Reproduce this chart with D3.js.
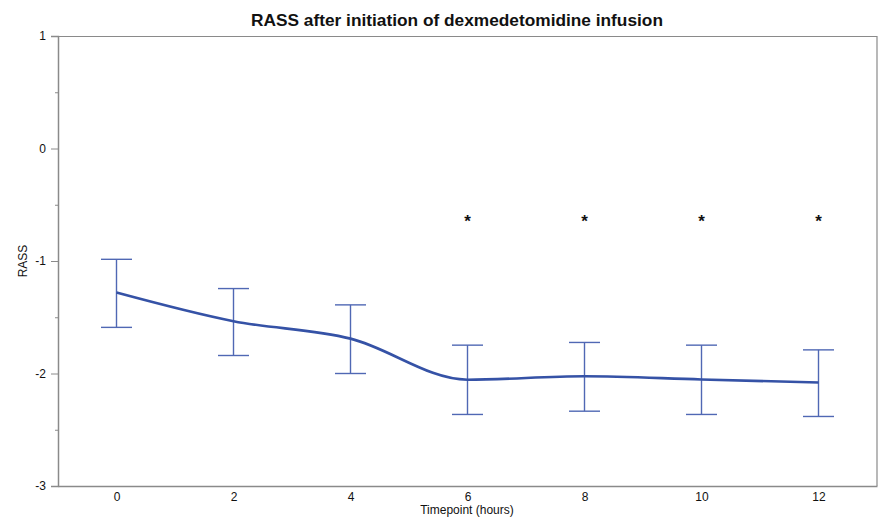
<!DOCTYPE html>
<html>
<head>
<meta charset="utf-8">
<script src="https://cdn.jsdelivr.net/npm/d3@7"></script>
<style>
  body { margin: 0; background: #fff; }
  text { font-family: "Liberation Sans", Arial, sans-serif; }
</style>
</head>
<body>
<div id="chart"></div>
<script>
// data
const hours = [0, 2, 4, 6, 8, 10, 12];
const meanRass = [-1.28, -1.535, -1.69, -2.055, -2.025, -2.053, -2.08];
const upperRass = [-0.985, -1.245, -1.39, -1.748, -1.724, -1.748, -1.79];
const lowerRass = [-1.59, -1.84, -2.0, -2.364, -2.335, -2.364, -2.382];
const starHours = [6, 8, 10, 12];
const starLevel = -0.63;
const xTicks = [0, 2, 4, 6, 8, 10, 12];
const yTicks = [1, 0, -1, -2, -3];
const yMinorTicks = [0.5, -0.5, -1.5, -2.5];

const margin = { top: 36, right: 8, bottom: 33, left: 58 };
const width = 885 - margin.left - margin.right;
const height = 519 - margin.top - margin.bottom;

const svg = d3.select("#chart").append("svg")
    .attr("width", 885).attr("height", 519);
const g = svg.append("g")
    .attr("transform", "translate(" + margin.left + "," + margin.top + ")");

const x = d3.scaleLinear().domain([-1, 13]).range([0, width]);
const y = d3.scaleLinear().domain([-3, 1]).range([height, 0]);

const axisColor = "#8a8a8a";

// frame: top and right border
g.append("path")
    .attr("d", "M0,0.5H" + width + "V" + height)
    .attr("fill", "none").attr("stroke", axisColor).attr("stroke-width", 1.2);

// y axis (plain hyphen minus like the original)
const yAxis = g.append("g").call(d3.axisLeft(y).tickValues(yTicks)
    .tickFormat(d => String(d)).tickSize(7).tickPadding(5));
yAxis.select(".domain").attr("stroke", axisColor).attr("stroke-width", 1.5);
yAxis.selectAll(".tick line").attr("stroke", axisColor);
yAxis.selectAll(".tick text").attr("font-size", 12).attr("fill", "#111");
const yMinor = g.append("g").call(d3.axisLeft(y).tickValues(yMinorTicks)
    .tickSize(3).tickFormat(""));
yMinor.select(".domain").remove();
yMinor.selectAll(".tick line").attr("stroke", axisColor);

// x axis
const xAxis = g.append("g").attr("transform", "translate(0," + height + ")")
    .call(d3.axisBottom(x).tickValues(xTicks).tickSize(0).tickPadding(6));
xAxis.select(".domain").attr("stroke", axisColor).attr("stroke-width", 1.5);
xAxis.selectAll(".tick text").attr("font-size", 12).attr("fill", "#111");

// error bars
const barColor = "#5068b4";
const capHalf = 15.5;
const bars = g.append("g").selectAll("g").data(hours).enter().append("g");
bars.append("line")
    .attr("x1", d => x(d)).attr("x2", d => x(d))
    .attr("y1", (d, i) => y(upperRass[i])).attr("y2", (d, i) => y(lowerRass[i]))
    .attr("stroke", barColor).attr("stroke-width", 1.4);
bars.append("line")
    .attr("x1", d => x(d) - capHalf).attr("x2", d => x(d) + capHalf)
    .attr("y1", (d, i) => y(upperRass[i])).attr("y2", (d, i) => y(upperRass[i]))
    .attr("stroke", barColor).attr("stroke-width", 1.4);
bars.append("line")
    .attr("x1", d => x(d) - capHalf).attr("x2", d => x(d) + capHalf)
    .attr("y1", (d, i) => y(lowerRass[i])).attr("y2", (d, i) => y(lowerRass[i]))
    .attr("stroke", barColor).attr("stroke-width", 1.4);

// mean line
const line = d3.line()
    .x(d => x(d[0])).y(d => y(d[1]))
    .curve(d3.curveMonotoneX);
g.append("path")
    .datum(hours.map((h, i) => [h, meanRass[i]]))
    .attr("d", line)
    .attr("fill", "none").attr("stroke", "#3552a6").attr("stroke-width", 2.6);

// significance marks
g.append("g").selectAll("text").data(starHours).enter().append("text")
    .attr("x", d => x(d)).attr("y", y(starLevel) + 8)
    .attr("text-anchor", "middle").attr("font-size", 17).attr("font-weight", "bold")
    .attr("fill", "#111")
    .text("*");

// labels
svg.append("text")
    .attr("x", 457).attr("y", 26)
    .attr("text-anchor", "middle").attr("font-size", 17.3).attr("font-weight", "bold")
    .attr("fill", "#111")
    .text("RASS after initiation of dexmedetomidine infusion");
svg.append("text")
    .attr("x", 467).attr("y", 514)
    .attr("text-anchor", "middle").attr("font-size", 12).attr("fill", "#111")
    .text("Timepoint (hours)");
svg.append("text")
    .attr("transform", "translate(27," + (margin.top + y(-1)) + ") rotate(-90)")
    .attr("text-anchor", "middle").attr("font-size", 12).attr("fill", "#111")
    .text("RASS");
</script>
</body>
</html>
